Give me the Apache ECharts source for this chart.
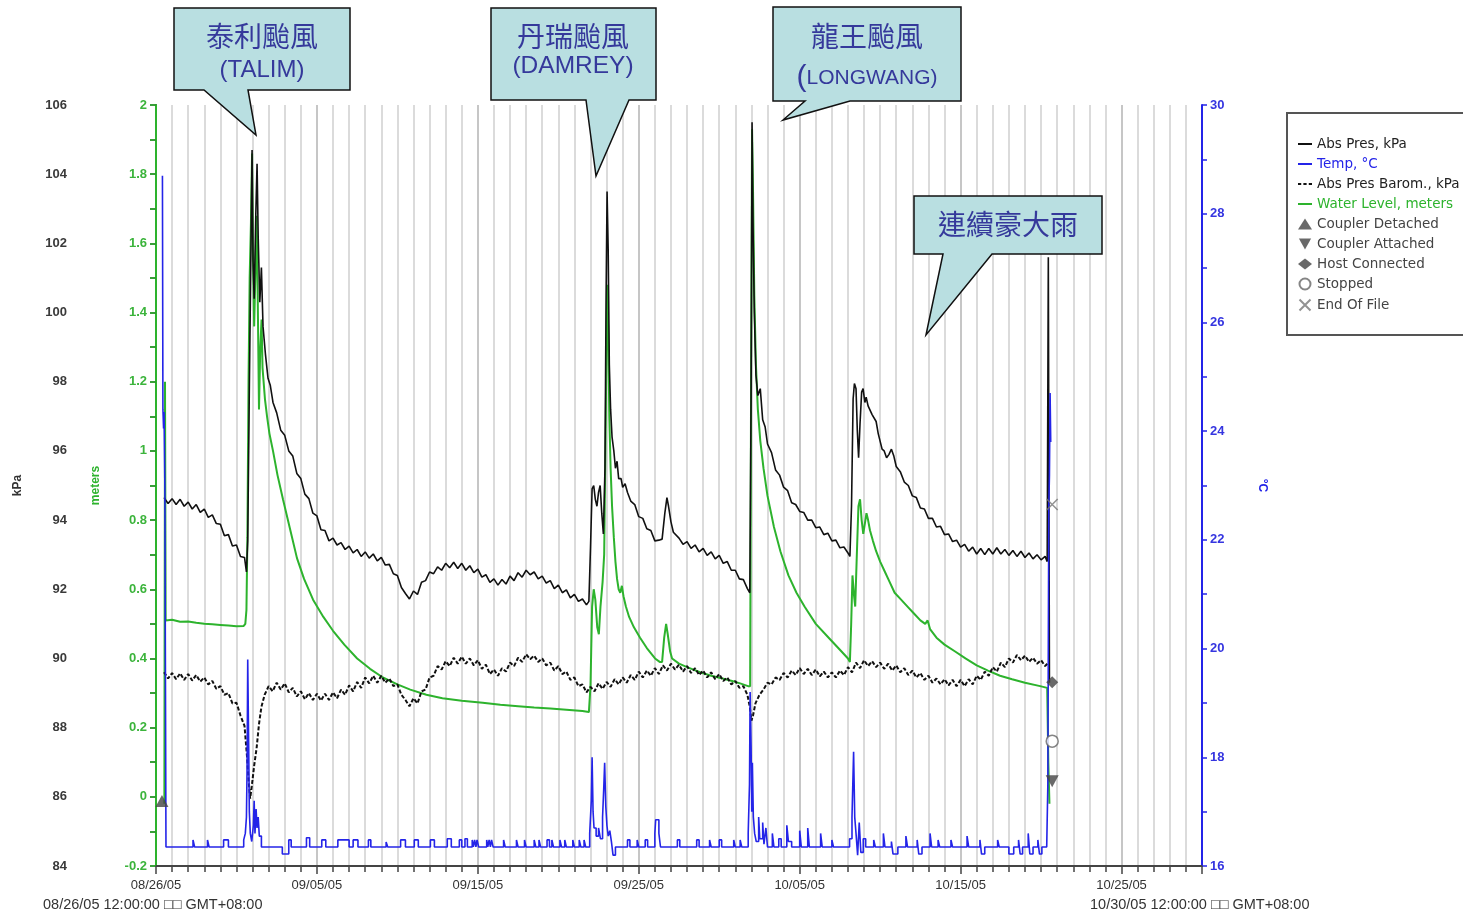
<!DOCTYPE html>
<html>
<head>
<meta charset="utf-8">
<script src="https://cdn.jsdelivr.net/npm/echarts@6.0.0/dist/echarts.min.js"></script>
<style>
  html, body { margin: 0; padding: 0; background: #ffffff; }
  #chart { width: 1463px; height: 918px; }
</style>
</head>
<body>
<div id="chart"></div>
<script>
// Logger record, 08/26/05 00:00 (GMT+08:00) = day 0. Each point is [day, value].
const DATE_TICKS = ['08/26/05', '09/05/05', '09/15/05', '09/25/05', '10/05/05', '10/15/05', '10/25/05'];
const START_CAPTION = '08/26/05 12:00:00 □□ GMT+08:00';
const END_CAPTION = '10/30/05 12:00:00 □□ GMT+08:00';

// Abs Pres, kPa (water-side sensor)
const ABS_PRES = [
  [0.50,94.65],[0.75,94.48],[1.00,94.62],[1.25,94.45],[1.50,94.60],[1.75,94.40],[2.00,94.52],[2.25,94.32],
  [2.50,94.45],[2.75,94.22],[3.00,94.32],[3.25,94.08],[3.50,94.15],[3.75,93.90],[4.00,93.88],[4.25,93.55],
  [4.50,93.58],[4.75,93.25],[5.00,93.28],[5.25,92.95],[5.50,92.92],[5.62,92.50],[5.70,93.40],[5.80,97.80],
  [5.90,101.80],[5.97,104.70],[6.03,101.50],[6.10,100.40],[6.20,102.80],[6.28,104.30],[6.35,102.20],[6.45,100.30],
  [6.55,101.30],[6.65,99.60],[6.80,98.80],[6.96,98.10],[7.10,97.90],[7.27,97.40],[7.50,97.10],[7.75,96.60],
  [8.00,96.45],[8.25,96.00],[8.50,95.85],[8.75,95.35],[9.00,95.20],[9.25,94.75],[9.50,94.62],[9.75,94.20],
  [10.00,94.12],[10.25,93.72],[10.50,93.70],[10.75,93.40],[11.00,93.48],[11.25,93.28],[11.50,93.35],[11.75,93.15],
  [12.00,93.25],[12.25,93.05],[12.50,93.15],[12.75,92.95],[13.00,93.08],[13.25,92.90],[13.50,93.02],[13.75,92.82],
  [14.00,92.92],[14.25,92.70],[14.50,92.72],[14.75,92.45],[15.00,92.40],[15.25,92.05],[15.50,91.88],[15.75,91.72],
  [16.00,91.95],[16.25,91.85],[16.50,92.20],[16.75,92.25],[17.00,92.50],[17.25,92.45],[17.50,92.65],[17.75,92.55],
  [18.00,92.75],[18.25,92.62],[18.50,92.78],[18.75,92.60],[19.00,92.75],[19.25,92.55],[19.50,92.68],[19.75,92.48],
  [20.00,92.58],[20.25,92.35],[20.50,92.42],[20.75,92.20],[21.00,92.30],[21.25,92.12],[21.50,92.28],[21.75,92.15],
  [22.00,92.38],[22.25,92.25],[22.50,92.48],[22.75,92.35],[23.00,92.55],[23.25,92.42],[23.50,92.50],[23.75,92.30],
  [24.00,92.38],[24.25,92.18],[24.50,92.25],[24.75,92.02],[25.00,92.12],[25.25,91.90],[25.50,91.98],[25.75,91.75],
  [26.00,91.85],[26.25,91.65],[26.50,91.72],[26.75,91.55],[26.90,91.65],[27.00,93.20],[27.10,94.90],[27.20,95.00],
  [27.30,94.60],[27.40,94.40],[27.50,94.80],[27.60,95.00],[27.70,94.20],[27.80,93.60],[27.90,95.50],[27.97,100.50],
  [28.03,103.50],[28.10,101.80],[28.17,98.50],[28.25,97.20],[28.34,96.40],[28.45,96.00],[28.55,95.50],[28.65,95.70],
  [28.75,95.20],[28.90,95.20],[29.00,94.95],[29.15,95.05],[29.30,94.80],[29.50,94.55],[29.75,94.45],[30.00,94.10],
  [30.25,94.05],[30.50,93.75],[30.75,93.70],[31.00,93.40],[31.25,93.42],[31.45,93.45],[31.62,94.20],[31.75,94.65],
  [31.85,94.40],[32.00,93.95],[32.15,93.65],[32.25,93.60],[32.50,93.48],[32.75,93.30],[33.00,93.38],[33.25,93.18],
  [33.50,93.28],[33.75,93.08],[34.00,93.18],[34.25,92.98],[34.50,93.08],[34.75,92.88],[35.00,92.98],[35.25,92.75],
  [35.50,92.80],[35.75,92.55],[36.00,92.55],[36.25,92.30],[36.50,92.28],[36.75,92.02],[36.90,91.90],[36.98,97.50],
  [37.04,105.50],[37.10,102.50],[37.18,100.00],[37.28,98.20],[37.40,97.60],[37.55,97.80],[37.70,96.90],[37.85,96.70],
  [38.00,96.20],[38.25,95.95],[38.50,95.45],[38.75,95.30],[39.00,94.95],[39.25,94.85],[39.50,94.50],[39.75,94.45],
  [40.00,94.25],[40.25,94.22],[40.50,94.00],[40.75,94.00],[41.00,93.78],[41.25,93.80],[41.50,93.58],[41.75,93.62],
  [42.00,93.40],[42.25,93.42],[42.50,93.20],[42.75,93.22],[43.00,93.05],[43.12,92.95],[43.22,94.40],[43.32,97.50],
  [43.40,97.95],[43.50,97.80],[43.58,96.60],[43.66,95.80],[43.75,96.80],[43.85,97.70],[43.94,97.80],[44.05,97.40],
  [44.13,97.55],[44.25,97.30],[44.37,97.35],[44.50,97.05],[44.62,97.10],[44.75,96.85],[44.88,96.50],[45.00,96.45],
  [45.12,96.05],[45.25,96.00],[45.40,95.80],[45.55,95.90],[45.70,96.05],[45.85,95.85],[46.00,95.55],[46.25,95.40],
  [46.50,95.10],[46.75,95.00],[47.00,94.70],[47.25,94.65],[47.50,94.35],[47.75,94.32],[48.00,94.05],[48.25,94.05],
  [48.50,93.80],[48.75,93.82],[49.00,93.58],[49.25,93.60],[49.50,93.38],[49.75,93.42],[50.00,93.22],[50.25,93.30],
  [50.50,93.10],[50.75,93.22],[51.00,93.02],[51.25,93.18],[51.50,93.00],[51.75,93.18],[52.00,93.02],[52.25,93.20],
  [52.50,93.02],[52.75,93.15],[53.00,92.98],[53.25,93.12],[53.50,92.95],[53.75,93.10],[54.00,92.92],[54.25,93.05],
  [54.50,92.88],[54.75,93.00],[55.00,92.85],[55.25,92.95],[55.38,92.80],[55.45,101.60],[55.52,89.30]
];

// Abs Pres Barom., kPa (air-side reference)
const BAROM = [
  [0.50,89.60],[0.75,89.42],[1.00,89.58],[1.25,89.40],[1.50,89.57],[1.75,89.38],[2.00,89.55],[2.25,89.36],
  [2.50,89.52],[2.75,89.33],[3.00,89.45],[3.25,89.25],[3.50,89.35],[3.75,89.12],[4.00,89.20],[4.25,88.95],
  [4.50,89.00],[4.75,88.70],[5.00,88.72],[5.25,88.35],[5.50,88.05],[5.65,87.20],[5.75,86.50],[5.85,85.95],
  [5.95,86.30],[6.10,86.90],[6.25,87.40],[6.40,88.10],[6.55,88.60],[6.75,88.95],[7.00,89.20],[7.25,89.05],
  [7.50,89.30],[7.75,89.10],[8.00,89.28],[8.25,89.02],[8.50,89.15],[8.75,88.90],[9.00,89.05],[9.25,88.82],
  [9.50,89.00],[9.75,88.80],[10.00,88.98],[10.25,88.78],[10.50,88.98],[10.75,88.80],[11.00,89.02],[11.25,88.85],
  [11.50,89.10],[11.75,88.95],[12.00,89.22],[12.25,89.05],[12.50,89.32],[12.75,89.15],[13.00,89.45],[13.25,89.28],
  [13.50,89.50],[13.75,89.30],[14.00,89.50],[14.25,89.30],[14.50,89.42],[14.75,89.20],[15.00,89.25],[15.25,88.95],
  [15.50,88.80],[15.75,88.62],[16.00,88.85],[16.25,88.70],[16.50,89.05],[16.75,89.10],[17.00,89.45],[17.25,89.50],
  [17.50,89.78],[17.75,89.68],[18.00,89.92],[18.25,89.78],[18.50,90.02],[18.75,89.85],[19.00,90.05],[19.25,89.85],
  [19.50,90.00],[19.75,89.80],[20.00,89.95],[20.25,89.70],[20.50,89.82],[20.75,89.55],[21.00,89.68],[21.25,89.50],
  [21.50,89.72],[21.75,89.62],[22.00,89.88],[22.25,89.78],[22.50,90.02],[22.75,89.90],[23.00,90.12],[23.25,89.98],
  [23.50,90.08],[23.75,89.90],[24.00,90.00],[24.25,89.80],[24.50,89.88],[24.75,89.65],[25.00,89.78],[25.25,89.55],
  [25.50,89.62],[25.75,89.38],[26.00,89.45],[26.25,89.20],[26.50,89.25],[26.75,89.02],[27.00,89.18],[27.25,89.05],
  [27.50,89.28],[27.75,89.12],[28.00,89.32],[28.25,89.18],[28.50,89.40],[28.75,89.25],[29.00,89.45],[29.25,89.30],
  [29.50,89.52],[29.75,89.38],[30.00,89.62],[30.25,89.45],[30.50,89.65],[30.75,89.50],[31.00,89.72],[31.25,89.55],
  [31.50,89.80],[31.75,89.65],[32.00,89.85],[32.25,89.68],[32.50,89.82],[32.75,89.62],[33.00,89.78],[33.25,89.58],
  [33.50,89.72],[33.75,89.52],[34.00,89.65],[34.25,89.45],[34.50,89.60],[34.75,89.40],[35.00,89.55],[35.25,89.35],
  [35.50,89.45],[35.75,89.25],[36.00,89.35],[36.25,89.15],[36.50,89.20],[36.75,88.95],[36.90,88.60],[37.00,88.20],
  [37.10,88.35],[37.25,88.70],[37.50,88.95],[37.75,89.10],[38.00,89.30],[38.25,89.25],[38.50,89.45],[38.75,89.38],
  [39.00,89.58],[39.25,89.45],[39.50,89.65],[39.75,89.52],[40.00,89.72],[40.25,89.55],[40.50,89.70],[40.75,89.52],
  [41.00,89.68],[41.25,89.48],[41.50,89.62],[41.75,89.45],[42.00,89.60],[42.25,89.45],[42.50,89.65],[42.75,89.52],
  [43.00,89.75],[43.25,89.60],[43.50,89.88],[43.75,89.72],[44.00,89.95],[44.25,89.78],[44.50,89.92],[44.75,89.75],
  [45.00,89.88],[45.25,89.70],[45.50,89.85],[45.75,89.65],[46.00,89.80],[46.25,89.60],[46.50,89.72],[46.75,89.52],
  [47.00,89.65],[47.25,89.45],[47.50,89.58],[47.75,89.38],[48.00,89.50],[48.25,89.30],[48.50,89.42],[48.75,89.25],
  [49.00,89.40],[49.25,89.22],[49.50,89.38],[49.75,89.20],[50.00,89.38],[50.25,89.20],[50.50,89.40],[50.75,89.25],
  [51.00,89.50],[51.25,89.38],[51.50,89.62],[51.75,89.50],[52.00,89.75],[52.25,89.62],[52.50,89.88],[52.75,89.75],
  [53.00,90.00],[53.25,89.88],[53.50,90.10],[53.75,89.95],[54.00,90.08],[54.25,89.90],[54.50,90.02],[54.75,89.85],
  [55.00,89.95],[55.25,89.78],[55.40,89.85]
];

// Water Level, meters
const WATER_LEVEL = [
  [0.52,-0.02],[0.56,1.20],[0.60,0.51],[1.00,0.512],[1.50,0.506],[2.00,0.507],[2.50,0.503],[3.00,0.500],
  [3.50,0.499],[4.00,0.497],[4.50,0.495],[5.00,0.493],[5.45,0.494],[5.55,0.50],[5.62,0.54],[5.68,0.75],
  [5.75,1.20],[5.82,1.50],[5.90,1.66],[5.97,1.86],[6.03,1.55],[6.10,1.36],[6.18,1.52],[6.25,1.68],
  [6.32,1.45],[6.40,1.12],[6.48,1.30],[6.56,1.38],[6.62,1.24],[6.77,1.15],[6.90,1.10],[7.05,1.05],
  [7.27,1.00],[7.55,0.93],[7.89,0.86],[8.30,0.78],[8.76,0.69],[9.20,0.63],[9.76,0.57],[10.40,0.52],
  [11.00,0.48],[11.70,0.44],[12.50,0.40],[13.30,0.37],[14.10,0.345],[15.00,0.325],[15.80,0.31],[16.80,0.295],
  [17.80,0.285],[19.00,0.278],[20.30,0.272],[21.40,0.266],[22.50,0.262],[23.50,0.258],[24.50,0.255],[25.50,0.252],
  [26.50,0.248],[26.90,0.245],[27.00,0.32],[27.10,0.55],[27.20,0.60],[27.30,0.57],[27.42,0.49],[27.52,0.47],
  [27.62,0.55],[27.75,0.62],[27.85,0.70],[27.95,1.10],[28.03,1.48],[28.10,1.35],[28.17,1.10],[28.25,0.95],
  [28.34,0.84],[28.45,0.75],[28.55,0.68],[28.65,0.63],[28.75,0.60],[28.85,0.59],[28.95,0.61],[29.05,0.58],
  [29.20,0.55],[29.40,0.52],[29.70,0.49],[30.08,0.46],[30.50,0.43],[31.01,0.40],[31.30,0.39],[31.45,0.39],
  [31.58,0.46],[31.70,0.50],[31.80,0.47],[31.95,0.42],[32.07,0.40],[32.50,0.385],[33.00,0.375],[33.81,0.36],
  [34.50,0.35],[35.20,0.342],[35.80,0.335],[36.30,0.328],[36.79,0.32],[36.92,0.32],[36.98,1.20],[37.04,1.93],
  [37.10,1.75],[37.18,1.45],[37.28,1.25],[37.40,1.12],[37.55,1.03],[37.75,0.95],[38.00,0.87],[38.40,0.78],
  [38.80,0.71],[39.30,0.64],[39.80,0.59],[40.30,0.55],[41.00,0.50],[41.80,0.46],[42.60,0.42],[43.00,0.40],
  [43.12,0.39],[43.20,0.50],[43.28,0.64],[43.38,0.58],[43.45,0.55],[43.55,0.70],[43.65,0.84],[43.75,0.86],
  [43.85,0.80],[43.95,0.76],[44.05,0.79],[44.15,0.82],[44.25,0.80],[44.37,0.77],[44.55,0.74],[44.75,0.71],
  [45.00,0.68],[45.30,0.65],[45.60,0.62],[45.90,0.59],[46.30,0.57],[46.70,0.55],[47.10,0.53],[47.50,0.51],
  [47.80,0.50],[47.95,0.51],[48.10,0.485],[48.50,0.46],[49.00,0.44],[49.66,0.42],[50.30,0.40],[51.00,0.38],
  [51.70,0.365],[52.45,0.35],[53.20,0.34],[54.00,0.33],[54.94,0.32],[55.38,0.315],[55.45,0.10],[55.52,-0.02]
];

// Temp, °C (held between readings)
const TEMP = [
  [0.40,28.70],[0.43,24.40],[0.47,24.05],[0.50,24.35],[0.55,23.00],[0.62,16.35],
  [2.30,16.48],[2.40,16.35],[3.20,16.48],[3.30,16.35],[4.20,16.48],[4.50,16.35],
  [5.45,16.48],[5.55,16.60],[5.62,16.90],[5.66,17.80],[5.70,19.80],[5.76,18.20],[5.80,17.00],[5.86,16.60],
  [5.95,16.45],[6.05,16.75],[6.10,17.20],[6.15,16.60],[6.22,17.05],[6.28,16.70],[6.35,16.90],[6.42,16.55],
  [6.55,16.35],[7.85,16.22],[8.25,16.48],[8.40,16.35],[9.35,16.52],[9.55,16.35],[10.30,16.48],[10.55,16.35],
  [11.30,16.48],[12.00,16.35],[12.25,16.48],[12.55,16.35],[13.20,16.48],[13.35,16.35],[14.30,16.44],[14.40,16.35],
  [15.20,16.48],[15.50,16.35],[16.05,16.48],[16.30,16.35],[17.05,16.48],[17.30,16.35],[18.10,16.50],[18.35,16.35],
  [18.85,16.48],[19.00,16.35],[19.20,16.50],[19.35,16.35],[19.65,16.48],[19.72,16.35],[19.80,16.48],[19.88,16.35],
  [19.95,16.48],[20.05,16.35],[20.55,16.48],[20.62,16.35],[20.70,16.48],[20.78,16.35],[20.85,16.48],[20.95,16.35],
  [21.60,16.48],[21.70,16.35],[22.40,16.48],[22.50,16.35],[22.90,16.48],[23.00,16.35],[23.50,16.48],[23.60,16.35],
  [23.80,16.48],[23.90,16.35],[24.30,16.48],[24.45,16.35],[24.60,16.48],[24.70,16.35],[25.10,16.48],[25.20,16.35],
  [25.40,16.48],[25.50,16.35],[25.90,16.48],[26.00,16.35],[26.30,16.48],[26.40,16.35],[26.60,16.48],[26.70,16.35],
  [26.95,16.60],[27.05,17.20],[27.10,18.00],[27.16,17.00],[27.22,16.70],[27.35,16.55],[27.50,16.70],[27.62,16.50],
  [27.75,16.90],[27.82,17.40],[27.88,17.90],[27.95,17.10],[28.02,16.75],[28.10,16.55],[28.20,16.65],[28.30,16.45],
  [28.40,16.20],[28.55,16.35],[29.30,16.48],[29.45,16.35],[29.90,16.48],[30.00,16.35],[30.40,16.48],[30.55,16.35],
  [31.00,16.60],[31.05,16.85],[31.25,16.60],[31.35,16.35],[32.40,16.48],[32.55,16.35],[33.60,16.48],[33.75,16.35],
  [34.40,16.48],[34.50,16.35],[35.00,16.48],[35.15,16.35],[35.90,16.48],[36.00,16.35],[36.30,16.48],[36.40,16.35],
  [36.80,16.60],[36.88,17.50],[36.92,19.20],[36.98,18.20],[37.02,17.00],[37.06,17.90],[37.12,16.90],[37.20,16.60],
  [37.30,16.45],[37.45,16.90],[37.52,16.50],[37.70,16.80],[37.78,16.40],[37.90,16.70],[38.00,16.35],[38.30,16.60],
  [38.40,16.35],[38.70,16.50],[38.85,16.35],[39.20,16.75],[39.30,16.45],[39.50,16.35],[40.00,16.65],[40.10,16.35],
  [40.50,16.70],[40.60,16.35],[41.30,16.60],[41.40,16.35],[42.00,16.48],[42.10,16.35],[43.10,16.50],[43.25,16.90],
  [43.35,18.10],[43.42,16.90],[43.50,16.60],[43.60,16.20],[43.70,16.80],[43.80,16.25],[43.95,16.50],[44.10,16.35],
  [44.60,16.48],[44.70,16.35],[45.20,16.60],[45.30,16.35],[45.70,16.45],[45.80,16.22],[46.10,16.35],[46.60,16.55],
  [46.70,16.35],[47.30,16.48],[47.40,16.22],[47.60,16.35],[48.10,16.60],[48.20,16.35],[48.60,16.48],[48.70,16.35],
  [49.40,16.48],[49.50,16.35],[50.40,16.55],[50.50,16.35],[51.20,16.48],[51.30,16.22],[51.50,16.35],[52.30,16.48],
  [52.40,16.35],[53.00,16.22],[53.30,16.35],[53.60,16.48],[53.70,16.22],[53.85,16.35],[54.20,16.60],[54.30,16.22],
  [54.50,16.35],[54.80,16.48],[54.90,16.22],[55.05,16.35],[55.35,16.35],[55.42,17.50],[55.48,22.60],[55.52,23.20],
  [55.56,24.70],[55.60,23.80]
];

// Logger events, plotted against the kPa scale
const COUPLER_DETACHED = [[0.37, 85.88]];
const COUPLER_ATTACHED = [[55.69, 86.45]];
const HOST_CONNECTED = [[55.69, 89.31]];
const STOPPED = [[55.69, 87.61]];
const END_OF_FILE = [[55.69, 94.45]];

const C_BLACK = '#111111';
const C_BLUE = '#2424e8';
const C_GREEN = '#2db32d';
const C_EVENT = '#444444';
const CALLOUT_FILL = '#b9dfe1';
const CALLOUT_TEXT = '#35399b';
const LATIN = '"Liberation Sans", Arial, sans-serif';
const CJK = '"Noto Sans CJK TC", "Noto Sans CJK SC", sans-serif';

// legend swatches: plain stroke and a dashed stroke
const ICON_LINE = 'path://M0,0H14V2H0Z';
const ICON_DASH = 'path://M0,0H3V2H0ZM5,0H8V2H5ZM10,0H13V2H10Z';

const chart = echarts.init(document.getElementById('chart'), null, { renderer: 'canvas' });

function callout(points, lines) {
  const els = [{
    type: 'polygon', z: 100,
    shape: { points: points },
    style: { fill: CALLOUT_FILL, stroke: '#111', lineWidth: 1.5 }
  }];
  lines.forEach(function (l) {
    els.push({
      type: 'text', z: 101, x: l.x, y: l.y,
      style: Object.assign({
        text: l.text, fill: CALLOUT_TEXT, align: 'center', verticalAlign: 'middle',
        fontFamily: l.cjk ? CJK : LATIN, fontSize: l.size
      }, l.rich ? { rich: l.rich } : {})
    });
  });
  return els;
}

const graphics = [].concat(
  callout([[174, 8], [350, 8], [350, 90], [248, 90], [256, 135], [204, 90], [174, 90]], [
    { text: '泰利颱風', x: 262, y: 36, size: 28, cjk: true },
    { text: '(TALIM)', x: 262, y: 70, size: 24 }
  ]),
  callout([[491, 8], [656, 8], [656, 100], [629, 100], [596, 176], [586, 100], [491, 100]], [
    { text: '丹瑞颱風', x: 573, y: 36, size: 28, cjk: true },
    { text: '(DAMREY)', x: 573, y: 66, size: 24.5 }
  ]),
  callout([[773, 7], [961, 7], [961, 101], [850, 101], [783, 120], [805, 101], [773, 101]], [
    { text: '龍王颱風', x: 867, y: 36, size: 28, cjk: true },
    { text: '{a|(}{b|LONGWANG)}', x: 867, y: 78, size: 21,
      rich: { a: { fontSize: 30, fontFamily: LATIN, fill: CALLOUT_TEXT }, b: { fontSize: 21, fontFamily: LATIN, fill: CALLOUT_TEXT } } }
  ]),
  callout([[914, 196], [1102, 196], [1102, 254], [992, 254], [926, 335], [943, 254], [914, 254]], [
    { text: '連續豪大雨', x: 1008, y: 224, size: 28, cjk: true }
  ]),
  [
    { type: 'text', x: 43, y: 905, z: 50,
      style: { text: START_CAPTION, fill: '#333', fontFamily: LATIN, fontSize: 14.5, verticalAlign: 'middle' } },
    { type: 'text', x: 1090, y: 905, z: 50,
      style: { text: END_CAPTION, fill: '#333', fontFamily: LATIN, fontSize: 14.5, verticalAlign: 'middle' } }
  ]
);

function lineSeries(name, data, yIndex, style, extra) {
  return Object.assign({
    name: name, type: 'line', data: data, xAxisIndex: 0, yAxisIndex: yIndex,
    symbol: 'none', showSymbol: false, smooth: false, animation: false,
    lineStyle: style, itemStyle: { color: style.color }, emphasis: { disabled: true }
  }, extra || {});
}

function eventSeries(name, data, symbol, size, itemStyle) {
  return {
    name: name, type: 'scatter', data: data, xAxisIndex: 0, yAxisIndex: 0,
    symbol: symbol, symbolSize: size, itemStyle: itemStyle, z: 20,
    animation: false, emphasis: { disabled: true }
  };
}

const option = {
  backgroundColor: '#ffffff',
  animation: false,
  grid: { left: 156, right: 261, top: 105, bottom: 52, containLabel: false },
  legend: {
    orient: 'vertical', left: 1287, top: 113, padding: [24, 14, 22, 10],
    borderColor: '#555', borderWidth: 2, backgroundColor: '#ffffff',
    itemWidth: 14, itemHeight: 11, itemGap: 6, symbolKeepAspect: true, selectedMode: false,
    textStyle: { fontFamily: '"DejaVu Sans", sans-serif', fontSize: 13.5, color: '#444' },
    data: [
      { name: 'Abs Pres, kPa', icon: ICON_LINE, textStyle: { color: '#222' } },
      { name: 'Temp, °C', icon: ICON_LINE, textStyle: { color: C_BLUE } },
      { name: 'Abs Pres Barom., kPa', icon: ICON_DASH, textStyle: { color: '#222' } },
      { name: 'Water Level, meters', icon: ICON_LINE, textStyle: { color: C_GREEN } },
      { name: 'Coupler Detached' },
      { name: 'Coupler Attached' },
      { name: 'Host Connected' },
      { name: 'Stopped' },
      { name: 'End Of File' }
    ]
  },
  xAxis: [
    {
      type: 'value', min: 0, max: 65, interval: 1, position: 'bottom',
      axisLine: { show: true, onZero: false, lineStyle: { color: '#444', width: 2 } },
      axisTick: { show: true, length: 6, lineStyle: { color: '#444', width: 1.5 } },
      axisLabel: {
        show: true, margin: 13, fontSize: 13, color: '#333', fontFamily: LATIN,
        showMaxLabel: false, hideOverlap: false,
        formatter: function (v) { return v % 10 === 0 ? (DATE_TICKS[v / 10] || '') : ''; }
      },
      splitLine: { show: true, lineStyle: { color: '#dbdbdb', width: 2 } }
    },
    {
      type: 'value', min: 0, max: 65, interval: 10, position: 'bottom',
      axisLine: { show: false, onZero: false },
      axisTick: { show: true, length: 8, lineStyle: { color: '#444', width: 1.5 } },
      axisLabel: { show: false },
      splitLine: { show: true, lineStyle: { color: '#c6c6c6', width: 2 } }
    }
  ],
  yAxis: [
    {
      type: 'value', position: 'left', offset: 78, min: 84, max: 106, interval: 2,
      name: 'kPa', nameLocation: 'middle', nameGap: 54, nameRotate: 90,
      nameTextStyle: { color: '#333', fontSize: 12, fontWeight: 'bold', fontFamily: LATIN },
      axisLine: { show: true, lineStyle: { color: '#333', width: 2 } },
      axisTick: { show: true, length: 6, lineStyle: { color: '#333', width: 1.5 } },
      minorTick: { show: true, splitNumber: 2, length: 6, lineStyle: { color: '#333', width: 1.5 } },
      axisLabel: { color: '#3a3a3a', fontSize: 13, fontWeight: 'bold', fontFamily: LATIN, margin: 11 },
      splitLine: { show: false }
    },
    {
      type: 'value', position: 'left', offset: 0, min: -0.2, max: 2, interval: 0.2,
      name: 'meters', nameLocation: 'middle', nameGap: 54, nameRotate: 90,
      nameTextStyle: { color: C_GREEN, fontSize: 12, fontWeight: 'bold', fontFamily: LATIN },
      axisLine: { show: true, lineStyle: { color: C_GREEN, width: 2 } },
      axisTick: { show: true, length: 6, lineStyle: { color: C_GREEN, width: 1.5 } },
      minorTick: { show: true, splitNumber: 2, length: 6, lineStyle: { color: C_GREEN, width: 1.5 } },
      axisLabel: {
        color: '#3cb43c', fontSize: 13, fontWeight: 'bold', fontFamily: LATIN, margin: 9,
        formatter: function (v) { return String(Math.round(v * 10) / 10); }
      },
      splitLine: { show: false }
    },
    {
      type: 'value', position: 'right', offset: 0, min: 16, max: 30, interval: 2,
      name: '°C', nameLocation: 'middle', nameGap: 54, nameRotate: -90,
      nameTextStyle: { color: C_BLUE, fontSize: 12, fontWeight: 'bold', fontFamily: LATIN },
      axisLine: { show: true, lineStyle: { color: C_BLUE, width: 2 } },
      axisTick: { show: true, length: 5, lineStyle: { color: C_BLUE, width: 1.5 } },
      minorTick: { show: true, splitNumber: 2, length: 5, lineStyle: { color: C_BLUE, width: 1.5 } },
      axisLabel: { color: '#3535e0', fontSize: 13, fontWeight: 'bold', fontFamily: LATIN, margin: 8 },
      splitLine: { show: false }
    }
  ],
  series: [
    lineSeries('Water Level, meters', WATER_LEVEL, 1, { color: C_GREEN, width: 2 }),
    lineSeries('Abs Pres Barom., kPa', BAROM, 0, { color: C_BLACK, width: 2, type: [4, 2] }),
    lineSeries('Abs Pres, kPa', ABS_PRES, 0, { color: C_BLACK, width: 1.6 }),
    lineSeries('Temp, °C', TEMP, 2, { color: C_BLUE, width: 1.6 }, { step: 'end' }),
    eventSeries('Coupler Detached', COUPLER_DETACHED, 'triangle', [13, 12], { color: C_EVENT }),
    eventSeries('Coupler Attached', COUPLER_ATTACHED, 'path://M0,0L10,0L5,9Z', [13, 12], { color: C_EVENT }),
    eventSeries('Host Connected', HOST_CONNECTED, 'diamond', [12, 12], { color: C_EVENT }),
    eventSeries('Stopped', STOPPED, 'circle', 12, { color: '#ffffff', borderColor: '#666', borderWidth: 1.5 }),
    eventSeries('End Of File', END_OF_FILE, 'path://M0,0L10,10M10,0L0,10', 11,
      { color: 'none', borderColor: '#777', borderWidth: 1.5 })
  ],
  graphic: { elements: graphics }
};

chart.setOption(option);
</script>
</body>
</html>
